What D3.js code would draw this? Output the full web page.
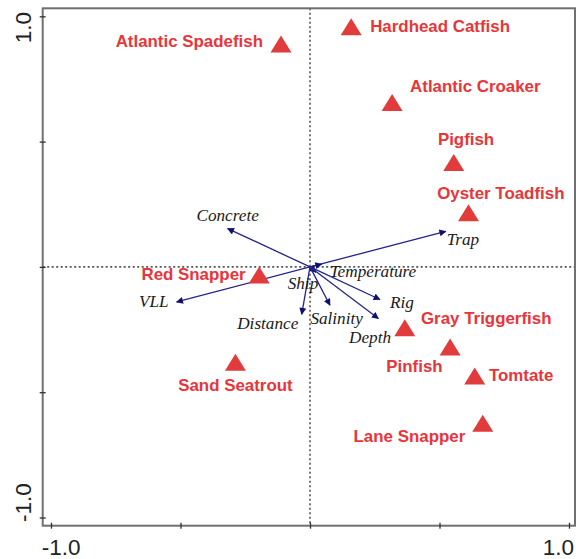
<!DOCTYPE html>
<html><head><meta charset="utf-8">
<script src="https://cdn.jsdelivr.net/npm/d3@7"></script>
<style>html,body{margin:0;padding:0;background:#fff;}svg{display:block;}</style>
</head><body>
<script>
// ---- data ----
const species = ["Hardhead Catfish","Atlantic Spadefish","Atlantic Croaker","Pigfish","Oyster Toadfish","Gray Triggerfish","Pinfish","Tomtate","Lane Snapper","Red Snapper","Sand Seatrout"];
const speciesX = [0.159,-0.112,0.317,0.555,0.612,0.366,0.541,0.636,0.667,-0.196,-0.288];
const speciesY = [0.958,0.889,0.656,0.417,0.216,-0.243,-0.320,-0.435,-0.624,-0.032,-0.380];

const variables = ["Concrete","Trap","VLL","Temperature","Ship","Distance","Salinity","Rig","Depth"];
const varX = [-0.318,0.524,-0.515,0.045,0.023,-0.032,0.077,0.270,0.264];
const varY = [0.153,0.142,-0.140,0.011,-0.021,-0.189,-0.153,-0.130,-0.206];

const tickValues = [-1,-0.5,0,0.5,1];
const axisLabels = ["-1.0","1.0"];

// ---- layout (pixel offsets for labels) ----
const speciesLabelLayout = {
  "Hardhead Catfish":[19,5.6,"start"],
  "Atlantic Spadefish":[-18,2.7,"end"],
  "Atlantic Croaker":[18,-10.5,"start"],
  "Pigfish":[12.3,-17.8,"middle"],
  "Oyster Toadfish":[32.3,-14,"middle"],
  "Gray Triggerfish":[16.2,-3.5,"start"],
  "Pinfish":[-7.5,25,"end"],
  "Tomtate":[14.2,5.2,"start"],
  "Lane Snapper":[-17.5,19,"end"],
  "Red Snapper":[-13.6,5,"end"],
  "Sand Seatrout":[0,29,"middle"]
};
const varLabelLayout = {
  "Concrete":[0,-7.6,"middle"],
  "Trap":[1,14,"start"],
  "VLL":[-8,5,"end"],
  "Temperature":[8,13,"start"],
  "Ship":[-13,17,"middle"],
  "Distance":[-3.4,14.3,"end"],
  "Salinity":[6.7,18.3,"middle"],
  "Rig":[10,9,"start"],
  "Depth":[-8.3,24.4,"middle"]
};

const W = 576, H = 559;
const svg = d3.select("body").append("svg").attr("width",W).attr("height",H);

const x = d3.scaleLinear().domain([-1,1]).range([51,569]);
const y = d3.scaleLinear().domain([-1,1]).range([517.5,16.3]);
const frame = {l:42.7, r:575, t:8.3, b:525.7};

const defs = svg.append("defs");
defs.append("marker").attr("id","ah").attr("viewBox","0 0 10 10")
  .attr("refX",9).attr("refY",5).attr("markerWidth",9).attr("markerHeight",7)
  .attr("markerUnits","userSpaceOnUse").attr("orient","auto")
  .append("path").attr("d","M0,0 L10,5 L0,10 z").attr("fill","#10106e");

// dotted zero lines
svg.append("line").attr("x1",frame.l).attr("x2",frame.r).attr("y1",y(0)).attr("y2",y(0))
  .attr("stroke","#555").attr("stroke-width",1.6).attr("stroke-dasharray","2,2.5");
svg.append("line").attr("x1",x(0)).attr("x2",x(0)).attr("y1",frame.t).attr("y2",frame.b)
  .attr("stroke","#555").attr("stroke-width",1.6).attr("stroke-dasharray","2,2.5");

// frame
svg.append("rect").attr("x",frame.l).attr("y",frame.t).attr("width",frame.r-frame.l).attr("height",frame.b-frame.t)
  .attr("fill","none").attr("stroke","#707070").attr("stroke-width",2);

// axes ticks via d3 axis
const xAxis = svg.append("g").attr("transform",`translate(0,${frame.b})`)
  .call(d3.axisBottom(x).tickValues(tickValues).tickSize(3).tickSizeOuter(0).tickFormat(""));
xAxis.select(".domain").remove();
xAxis.selectAll(".tick line").attr("stroke","#333").attr("stroke-width",1.3).attr("y1",-3).attr("y2",3);
const yAxis = svg.append("g").attr("transform",`translate(${frame.l},0)`)
  .call(d3.axisLeft(y).tickValues(tickValues).tickSize(3).tickSizeOuter(0).tickFormat(""));
yAxis.select(".domain").remove();
yAxis.selectAll(".tick line").attr("stroke","#333").attr("stroke-width",1.3).attr("x1",-3).attr("x2",3);

// tick labels (ends only)
const tf = "'Liberation Sans', Arial, sans-serif";
svg.append("text").attr("x",frame.l-1).attr("y",555).attr("font-family",tf).attr("font-size",22.5)
  .attr("fill","#222").attr("text-anchor","start").text(axisLabels[0]);
svg.append("text").attr("x",frame.r-1).attr("y",555).attr("font-family",tf).attr("font-size",22.5)
  .attr("fill","#222").attr("text-anchor","end").text(axisLabels[1]);
svg.append("text").attr("transform",`translate(31,12) rotate(-90)`).attr("font-family",tf).attr("font-size",22.5)
  .attr("fill","#222").attr("text-anchor","end").text(axisLabels[1]);
svg.append("text").attr("transform",`translate(31,522) rotate(-90)`).attr("font-family",tf).attr("font-size",22.5)
  .attr("fill","#222").attr("text-anchor","start").text(axisLabels[0]);

// variable arrows
const vars = variables.map((n,i)=>({name:n, vx:varX[i], vy:varY[i]}));
svg.append("g").selectAll("line").data(vars).join("line")
  .attr("x1",x(0)).attr("y1",y(0))
  .attr("x2",d=>x(d.vx)).attr("y2",d=>y(d.vy))
  .attr("stroke","#24248a").attr("stroke-width",1.3)
  .attr("marker-end","url(#ah)");
svg.append("g").selectAll("text").data(vars).join("text")
  .attr("x",d=>x(d.vx)+varLabelLayout[d.name][0])
  .attr("y",d=>y(d.vy)+varLabelLayout[d.name][1])
  .attr("text-anchor",d=>varLabelLayout[d.name][2])
  .attr("font-family","'Liberation Serif','Times New Roman',serif")
  .attr("font-style","italic").attr("font-size",17.2).attr("fill","#1a1a1a")
  .text(d=>d.name);

// species triangles
const sp = species.map((n,i)=>({name:n, sx:speciesX[i], sy:speciesY[i]}));
const tri = "M0,-8.5 L10.5,8.5 L-10.5,8.5 Z";
svg.append("g").selectAll("path").data(sp).join("path")
  .attr("d",tri).attr("transform",d=>`translate(${x(d.sx)},${y(d.sy)})`)
  .attr("fill","#e23b3b");
svg.append("g").selectAll("text").data(sp).join("text")
  .attr("x",d=>x(d.sx)+speciesLabelLayout[d.name][0])
  .attr("y",d=>y(d.sy)+speciesLabelLayout[d.name][1])
  .attr("text-anchor",d=>speciesLabelLayout[d.name][2])
  .attr("font-family",tf).attr("font-weight","bold").attr("font-size",16.9)
  .attr("fill","#e8353a")
  .text(d=>d.name);
</script>
</body></html>
